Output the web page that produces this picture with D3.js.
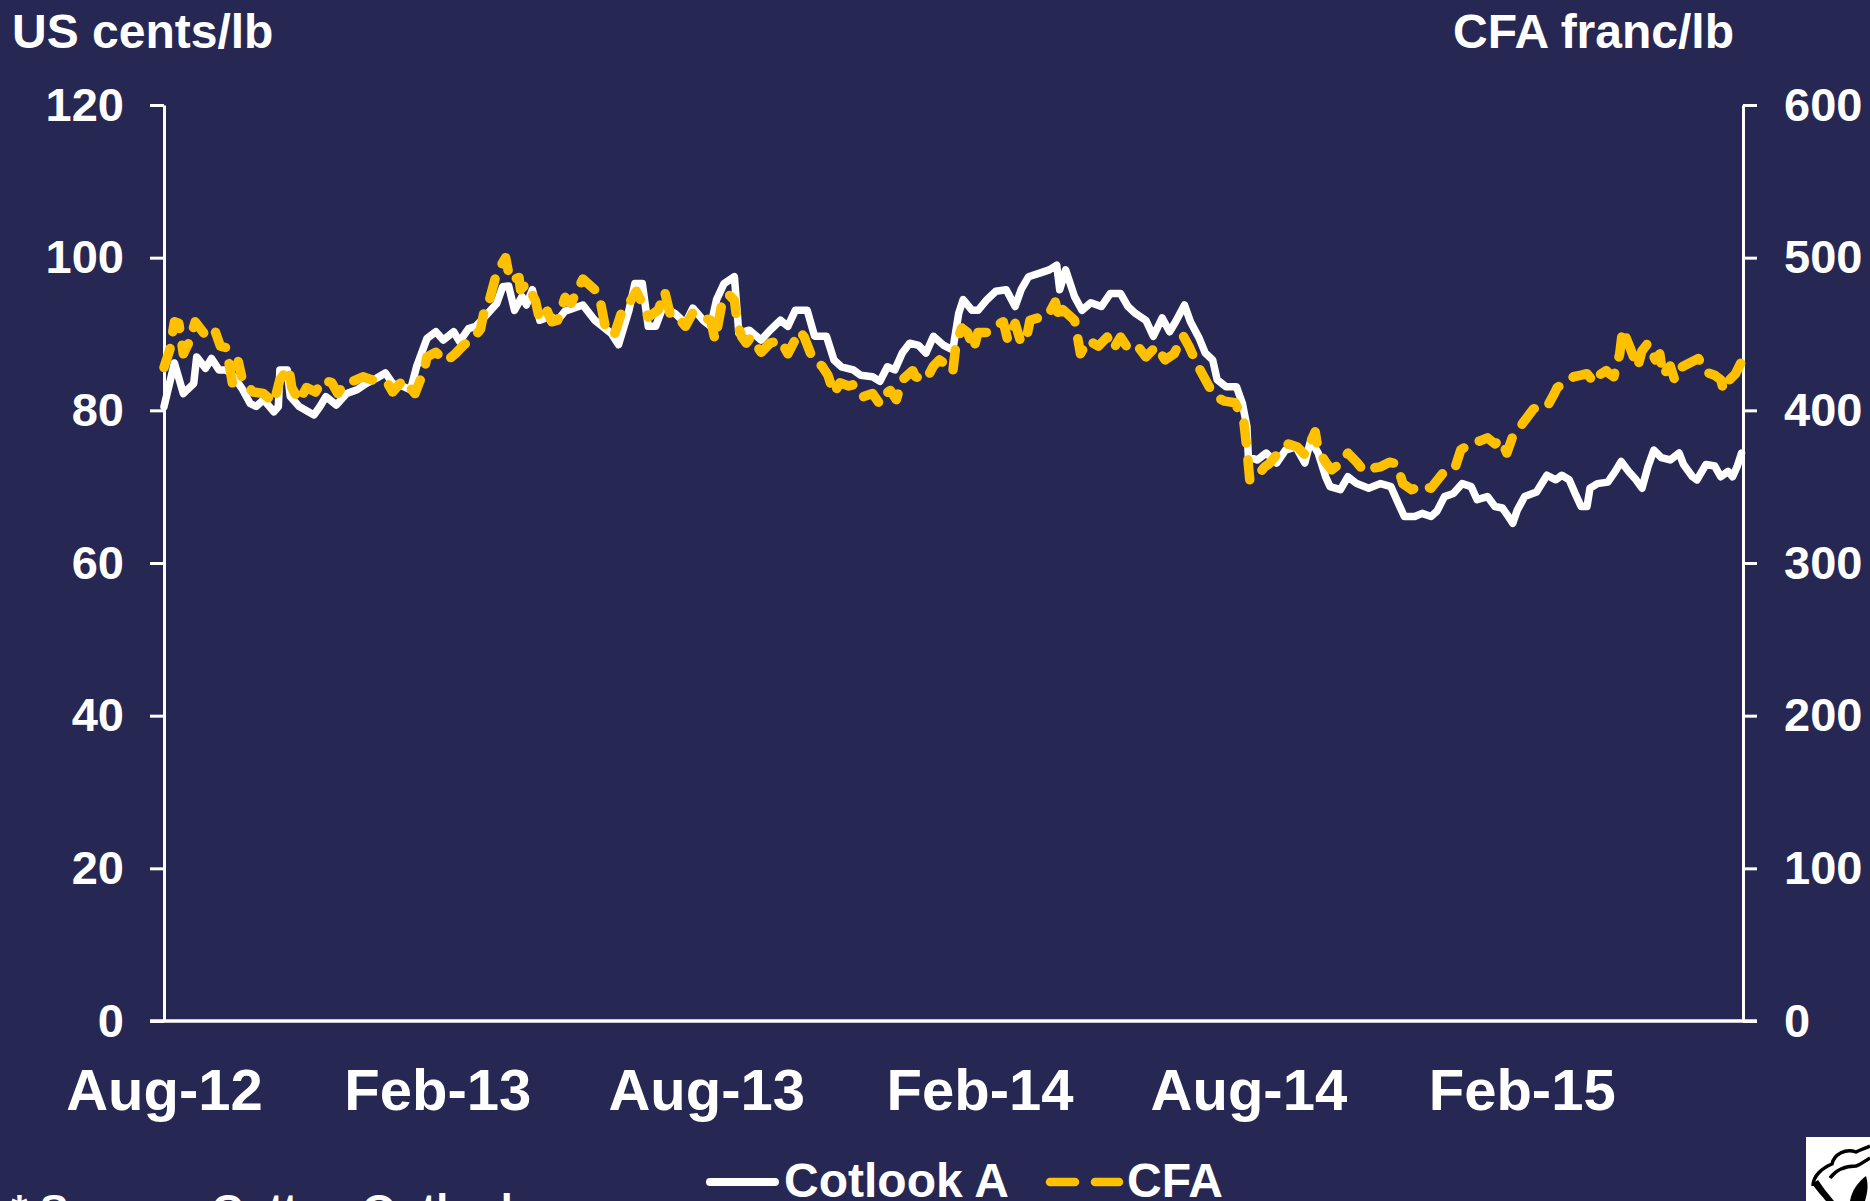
<!DOCTYPE html>
<html><head><meta charset="utf-8">
<script src="https://cdn.jsdelivr.net/npm/d3@7"></script>
<style>
html,body{margin:0;padding:0;background:#262853;overflow:hidden}
svg{display:block}
text{font-family:"Liberation Sans",Arial,Helvetica,sans-serif;font-weight:bold;fill:#fff}
</style>
</head><body>
<svg id="c" width="1870" height="1201"></svg>
<script>
// ---------- DATA ----------
const cotlookDates = ["2012-08-01","2012-08-08","2012-08-14","2012-08-21","2012-08-23","2012-08-29","2012-09-02","2012-09-07","2012-09-12","2012-09-17","2012-09-23","2012-09-28","2012-10-02","2012-10-07","2012-10-14","2012-10-17","2012-10-18","2012-10-23","2012-10-25","2012-10-31","2012-11-10","2012-11-14","2012-11-18","2012-11-25","2012-12-02","2012-12-09","2012-12-15","2012-12-22","2012-12-28","2013-01-02","2013-01-07","2013-01-14","2013-01-18","2013-01-25","2013-01-31","2013-02-05","2013-02-12","2013-02-16","2013-02-22","2013-02-27","2013-03-06","2013-03-13","2013-03-17","2013-03-21","2013-03-25","2013-03-30","2013-04-02","2013-04-06","2013-04-11","2013-04-18","2013-04-23","2013-04-28","2013-05-10","2013-05-18","2013-05-29","2013-06-03","2013-06-10","2013-06-14","2013-06-19","2013-06-23","2013-06-28","2013-07-03","2013-07-11","2013-07-18","2013-07-23","2013-07-30","2013-08-04","2013-08-08","2013-08-13","2013-08-20","2013-08-23","2013-08-30","2013-09-07","2013-09-13","2013-09-20","2013-09-25","2013-09-30","2013-10-08","2013-10-13","2013-10-21","2013-10-26","2013-10-31","2013-11-08","2013-11-13","2013-11-21","2013-11-26","2013-12-01","2013-12-06","2013-12-11","2013-12-16","2013-12-22","2013-12-27","2014-01-01","2014-01-08","2014-01-14","2014-01-18","2014-01-21","2014-01-27","2014-01-31","2014-02-06","2014-02-12","2014-02-19","2014-02-25","2014-03-01","2014-03-06","2014-03-14","2014-03-20","2014-03-25","2014-03-27","2014-03-31","2014-04-06","2014-04-11","2014-04-17","2014-04-24","2014-04-30","2014-05-07","2014-05-12","2014-05-17","2014-05-24","2014-05-29","2014-06-04","2014-06-09","2014-06-13","2014-06-19","2014-06-23","2014-06-29","2014-07-03","2014-07-08","2014-07-11","2014-07-17","2014-07-24","2014-07-28","2014-07-31","2014-08-01","2014-08-07","2014-08-13","2014-08-20","2014-08-26","2014-09-02","2014-09-08","2014-09-12","2014-09-17","2014-09-22","2014-09-25","2014-10-02","2014-10-07","2014-10-13","2014-10-21","2014-10-29","2014-11-05","2014-11-10","2014-11-14","2014-11-21","2014-11-26","2014-12-02","2014-12-06","2014-12-11","2014-12-17","2014-12-23","2014-12-29","2015-01-02","2015-01-09","2015-01-14","2015-01-19","2015-01-23","2015-01-26","2015-01-29","2015-02-03","2015-02-11","2015-02-18","2015-02-24","2015-02-28","2015-03-05","2015-03-09","2015-03-13","2015-03-17","2015-03-19","2015-03-24","2015-03-31","2015-04-05","2015-04-09","2015-04-14","2015-04-19","2015-04-23","2015-04-27","2015-05-01","2015-05-06","2015-05-12","2015-05-18","2015-05-21","2015-05-27","2015-05-30","2015-06-05","2015-06-11","2015-06-15","2015-06-20","2015-06-23","2015-06-26","2015-06-29"];
const cotlookValues = [80.5,86.2,82.2,83.5,87.0,85.5,86.8,85.3,85.3,84.4,82.7,80.9,80.5,81.4,79.8,80.5,85.3,85.3,81.8,80.5,79.4,80.5,81.8,80.7,82.2,82.7,83.5,84.2,84.9,83.5,83.3,82.7,85.7,89.4,90.3,89.2,90.3,89.0,90.7,91.0,92.5,94.0,96.2,96.3,93.1,94.9,93.8,95.8,91.8,92.3,91.8,93.0,93.8,91.8,90.1,88.6,93.1,96.6,96.6,91.0,91.0,93.6,92.7,91.4,93.4,91.8,91.0,94.5,96.6,97.5,90.1,90.5,89.2,90.5,91.8,91.0,93.1,93.1,89.7,89.7,86.6,85.7,85.3,84.6,84.4,83.8,85.7,85.3,87.5,88.8,88.5,87.5,89.7,88.5,87.9,92.7,94.5,93.1,93.1,94.5,95.6,95.8,93.6,95.8,97.5,98.0,98.4,99.0,95.8,98.4,94.9,93.1,94.1,93.6,95.3,95.3,93.6,92.7,91.8,89.7,92.1,90.3,91.6,93.8,91.6,89.4,87.5,86.6,84.0,83.1,83.1,80.9,77.9,73.9,73.5,74.4,73.1,74.8,75.2,73.1,76.1,74.4,71.3,70.0,69.6,71.3,70.4,69.8,70.4,70.0,67.8,66.1,66.1,66.5,66.1,66.8,68.7,69.1,70.4,70.0,68.3,68.7,67.4,67.2,66.1,65.2,66.9,68.7,69.3,71.5,70.9,71.5,70.9,69.1,67.4,67.4,69.8,70.4,70.6,72.0,73.3,72.0,70.9,69.8,72.6,74.8,73.8,73.5,74.4,72.9,71.3,70.9,72.9,72.7,71.3,72.0,71.3,72.6,74.4];

const cfaDates = ["2012-08-01","2012-08-05","2012-08-08","2012-08-11","2012-08-14","2012-08-18","2012-08-22","2012-08-29","2012-09-04","2012-09-08","2012-09-12","2012-09-16","2012-09-20","2012-09-23","2012-09-30","2012-10-07","2012-10-14","2012-10-18","2012-10-24","2012-10-26","2012-10-31","2012-11-05","2012-11-11","2012-11-16","2012-11-22","2012-11-26","2012-11-30","2012-12-06","2012-12-13","2012-12-22","2012-12-30","2013-01-02","2013-01-09","2013-01-17","2013-01-23","2013-01-25","2013-01-31","2013-02-07","2013-02-13","2013-02-19","2013-02-24","2013-03-02","2013-03-05","2013-03-08","2013-03-13","2013-03-19","2013-03-22","2013-03-28","2013-03-29","2013-04-02","2013-04-08","2013-04-11","2013-04-16","2013-04-19","2013-04-23","2013-04-28","2013-05-02","2013-05-10","2013-05-18","2013-05-21","2013-05-25","2013-05-31","2013-06-05","2013-06-10","2013-06-15","2013-06-19","2013-06-23","2013-06-30","2013-07-04","2013-07-08","2013-07-13","2013-07-18","2013-07-23","2013-07-29","2013-08-04","2013-08-07","2013-08-12","2013-08-16","2013-08-20","2013-08-22","2013-08-25","2013-08-28","2013-08-31","2013-09-07","2013-09-13","2013-09-20","2013-09-25","2013-10-03","2013-10-06","2013-10-12","2013-10-18","2013-10-22","2013-10-26","2013-10-30","2013-11-05","2013-11-09","2013-11-15","2013-11-21","2013-11-26","2013-11-30","2013-12-03","2013-12-07","2013-12-11","2013-12-18","2013-12-20","2013-12-27","2014-01-01","2014-01-05","2014-01-08","2014-01-14","2014-01-16","2014-01-20","2014-01-24","2014-01-28","2014-01-31","2014-02-06","2014-02-11","2014-02-17","2014-02-20","2014-02-25","2014-03-01","2014-03-05","2014-03-07","2014-03-14","2014-03-19","2014-03-24","2014-03-27","2014-03-29","2014-04-06","2014-04-10","2014-04-15","2014-04-22","2014-04-28","2014-05-02","2014-05-07","2014-05-11","2014-05-17","2014-05-24","2014-05-31","2014-06-06","2014-06-12","2014-06-18","2014-06-22","2014-06-27","2014-07-02","2014-07-07","2014-07-10","2014-07-16","2014-07-23","2014-07-25","2014-07-29","2014-07-31","2014-08-02","2014-08-06","2014-08-12","2014-08-15","2014-08-21","2014-08-28","2014-09-03","2014-09-08","2014-09-15","2014-09-17","2014-09-22","2014-09-26","2014-10-03","2014-10-07","2014-10-13","2014-10-18","2014-10-23","2014-10-29","2014-11-04","2014-11-09","2014-11-13","2014-11-19","2014-11-26","2014-12-02","2014-12-06","2014-12-11","2014-12-18","2014-12-22","2014-12-28","2015-01-04","2015-01-09","2015-01-14","2015-01-18","2015-01-22","2015-01-26","2015-01-31","2015-02-02","2015-02-09","2015-02-14","2015-02-18","2015-02-23","2015-02-25","2015-03-02","2015-03-08","2015-03-13","2015-03-17","2015-03-22","2015-03-25","2015-03-30","2015-04-01","2015-04-04","2015-04-08","2015-04-10","2015-04-15","2015-04-20","2015-04-23","2015-04-27","2015-05-02","2015-05-05","2015-05-07","2015-05-12","2015-05-15","2015-05-19","2015-05-25","2015-05-31","2015-06-05","2015-06-11","2015-06-15","2015-06-17","2015-06-21","2015-06-25","2015-06-29"];
const cfaValues = [428,440,458,457,437,445,458,449,453,442,441,418,432,419,412,411,405,420,428,415,406,415,412,420,418,411,417,419,422,419,417,412,420,411,426,435,438,432,437,443,446,453,467,472,490,500,485,487,479,483,472,459,465,458,459,474,470,486,479,475,455,449,464,470,478,470,461,466,478,462,461,455,464,461,459,446,472,476,472,457,448,444,448,438,444,446,437,452,448,433,429,423,411,418,416,417,409,411,404,411,413,407,420,426,422,420,429,433,431,425,442,454,451,440,451,451,455,458,446,457,444,449,459,461,462,471,459,466,459,437,446,442,448,440,448,442,444,435,442,433,437,449,442,431,422,413,409,406,405,401,392,375,354,356,363,365,372,378,376,371,386,374,366,361,366,372,366,360,362,363,366,365,352,348,351,349,354,360,362,374,378,380,382,378,381,372,383,389,392,401,402,402,411,415,418,422,423,424,418,423,426,424,422,437,453,441,428,439,444,433,437,423,429,420,428,431,434,425,423,420,413,420,424,432];

const leftTicks = [0,20,40,60,80,100,120];
const rightTicks = [0,100,200,300,400,500,600];
const xTickDates = ["2012-08-01","2013-02-01","2013-08-01","2014-02-01","2014-08-01","2015-02-01"];
const seriesNames = ["Cotlook A","CFA"];
const leftTitle = "US cents/lb";
const rightTitle = "CFA franc/lb";
const footnote = "* Source: Cotton Outlook";

// ---------- CHART ----------
const BG = "#262853", WHITE = "#ffffff", GOLD = "#FFC000";
const parse = d3.timeParse("%Y-%m-%d");
const svg = d3.select("#c");
svg.append("rect").attr("width",1870).attr("height",1201).attr("fill",BG);

const x = d3.scaleTime().domain([parse("2012-08-01"), parse("2015-06-30")]).range([164,1743]);
const yL = d3.scaleLinear().domain([0,120]).range([1021,105]);
const yR = d3.scaleLinear().domain([0,600]).range([1021,105]);

function styleAxis(g, fs){
  g.selectAll(".domain").attr("stroke",WHITE).attr("stroke-width",3);
  g.selectAll(".tick line").attr("stroke",WHITE).attr("stroke-width",3);
  g.selectAll("text").attr("fill",WHITE).style("font-size",fs+"px")
   .style("font-family",'"Liberation Sans",Arial,sans-serif').style("font-weight","bold");
}

const gL = svg.append("g").attr("transform","translate(164,0)")
  .call(d3.axisLeft(yL).tickValues(leftTicks).tickSize(14).tickSizeOuter(0).tickPadding(26));
styleAxis(gL,47);

const gR = svg.append("g").attr("transform","translate(1743,0)")
  .call(d3.axisRight(yR).tickValues(rightTicks).tickSize(14).tickSizeOuter(0).tickPadding(27));
styleAxis(gR,47);

// bottom axis line spanning tick to tick
svg.append("line").attr("x1",150).attr("x2",1757).attr("y1",yL(0)).attr("y2",yL(0))
  .attr("stroke",WHITE).attr("stroke-width",3.5);

const gB = svg.append("g").attr("transform",`translate(0,${yL(0)})`)
  .call(d3.axisBottom(x).tickValues(xTickDates.map(parse)).tickFormat(d3.timeFormat("%b-%y")).tickSize(0));
gB.select(".domain").remove();
styleAxis(gB,58);
gB.selectAll("text").attr("y",89).attr("dy",0);

// titles
svg.append("text").attr("x",12).attr("y",48).style("font-size","48px").text(leftTitle);
svg.append("text").attr("x",1734).attr("y",48).attr("text-anchor","end").style("font-size","48px").text(rightTitle);

// lines
const cot = cotlookDates.map((d,i)=>({date:parse(d), v:cotlookValues[i]}));
const cfa = cfaDates.map((d,i)=>({date:parse(d), v:cfaValues[i]}));

svg.append("path").datum(cot)
  .attr("d", d3.line().x(d=>x(d.date)).y(d=>yL(d.v)))
  .attr("fill","none").attr("stroke",WHITE).attr("stroke-width",7.5)
  .attr("stroke-linejoin","round").attr("stroke-linecap","round");

svg.append("path").datum(cfa)
  .attr("d", d3.line().x(d=>x(d.date)).y(d=>yR(d.v)))
  .attr("fill","none").attr("stroke",GOLD).attr("stroke-width",9.5)
  .attr("stroke-linejoin","round").attr("stroke-linecap","round")
  .attr("stroke-dasharray","20,17");

// legend
const lg = svg.append("g");
lg.append("line").attr("x1",710).attr("x2",775).attr("y1",1182).attr("y2",1182)
  .attr("stroke",WHITE).attr("stroke-width",8).attr("stroke-linecap","round");
lg.append("text").attr("x",784).attr("y",1197).style("font-size","48px").text(seriesNames[0]);
lg.append("line").attr("x1",1050).attr("x2",1119).attr("y1",1182).attr("y2",1182)
  .attr("stroke",GOLD).attr("stroke-width",8.5).attr("stroke-linecap","round")
  .attr("stroke-dasharray","25,20");
lg.append("text").attr("x",1127).attr("y",1197).style("font-size","48px").text(seriesNames[1]);

// footnote (cut by the bottom edge, as in the source)
svg.append("text").attr("x",11).attr("y",1224).style("font-size","43px").text(footnote);

// logo (cotton boll)
const logo = svg.append("g");
logo.append("rect").attr("x",1806).attr("y",1137).attr("width",64).attr("height",64).attr("fill","#fff");
logo.append("path").attr("d","M1813,1186 C1813,1176 1822,1168 1832,1164 C1834,1154 1846,1148 1856,1152 C1862,1149 1866,1148 1870,1146")
  .attr("fill","none").attr("stroke","#000").attr("stroke-width",3.5);
logo.append("path").attr("d","M1812,1184 C1818,1192 1822,1196 1826,1201 L1834,1201 C1828,1194 1822,1186 1818,1180 Z")
  .attr("fill","#000");
logo.append("path").attr("d","M1830,1178 C1836,1170 1846,1166 1856,1166 C1862,1164 1866,1160 1870,1158")
  .attr("fill","none").attr("stroke","#000").attr("stroke-width",3.5);
logo.append("path").attr("d","M1850,1201 C1852,1190 1858,1182 1866,1176 C1869,1186 1867,1194 1865,1201 Z")
  .attr("fill","#000");
</script>
</body></html>
